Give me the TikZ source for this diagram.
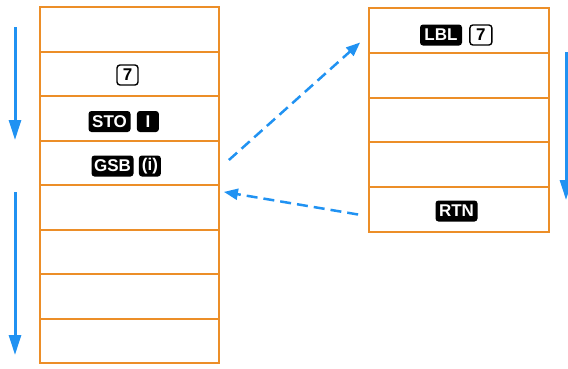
\documentclass[tikz,border=0pt]{standalone}
\usepackage{fontspec}
\newfontfamily\keyfont{Liberation Sans}
\usetikzlibrary{arrows.meta,positioning}

\definecolor{cellorange}{RGB}{236,142,40}
\definecolor{flowblue}{RGB}{32,146,242}

\begin{document}
\begin{tikzpicture}[
  x=1pt, y=-1pt,
  >=Latex,
  every node/.style={font=\keyfont\bfseries\fontsize{17}{20}\selectfont},
  lcell/.style={draw=cellorange, line width=1.8pt, minimum width=179pt, inner sep=0pt},
  rcell/.style={draw=cellorange, line width=1.8pt, minimum width=180pt, inner sep=0pt},
  blackkey/.style={fill=black, text=white, rounded corners=3pt, minimum width=42pt, minimum height=21pt, inner xsep=2pt, inner ysep=0pt},
  whitekey/.style={draw=black, line width=1.4pt, fill=white, text=black, rounded corners=3pt, minimum width=21pt, minimum height=20pt, inner xsep=2pt, inner ysep=0pt},
  narrow/.style={minimum width=22pt},
  flow/.style={draw=flowblue, line width=3pt, -{Triangle[length=20pt,width=12pt]}},
  jump/.style={draw=flowblue, line width=2.5pt, dash pattern=on 11pt off 6pt, -{Triangle[length=14pt,width=11pt]}}
]
  \useasboundingbox (0,0) rectangle (568,368);
  \clip (0,0) rectangle (568,368);

  \foreach \i in {1,...,8}{
    \pgfmathsetmacro\ctop{7+round(44.5*(\i-1))}
    \pgfmathsetmacro\cbot{7+round(44.5*\i)}
    \node[lcell, minimum height=\cbot pt-\ctop pt] (l\i) at (129.5,{(\ctop+\cbot)/2}) {};
  }
  \foreach \i in {1,...,5}{
    \pgfmathsetmacro\ctop{8+round(44.8*(\i-1))}
    \pgfmathsetmacro\cbot{8+round(44.8*\i)}
    \node[rcell, minimum height=\cbot pt-\ctop pt] (r\i) at (459,{(\ctop+\cbot)/2}) {};
  }

  \node[whitekey] (seven) at ([xshift=-2pt,yshift=-1pt]l2.center) {7};
  \node[blackkey] (sto) at ([xshift=-20pt,yshift=-3pt]l3.center) {STO};
  \node[blackkey, narrow, right=6pt of sto] (ireg) {I};
  \node[blackkey] (gsb) at ([xshift=-17pt,yshift=-3pt]l4.center) {GSB};
  \node[blackkey, narrow, right=5pt of gsb] (indirect) {(i)};
  \node[blackkey] (lbl) at ([xshift=-18pt,yshift=-4.5pt]r1.center) {LBL};
  \node[whitekey, narrow, right=7pt of lbl] (lblseven) {7};
  \node[blackkey] (rtn) at ([xshift=-2.5pt,yshift=-1.5pt]r5.center) {RTN};

  \coordinate (maintop) at (15,27);
  \coordinate (mainmid) at (15,140);
  \coordinate (restop) at (15,192);
  \coordinate (resbot) at (15,355);
  \coordinate (subtop) at (566,52);
  \coordinate (subbot) at (566,200);
  \draw[flow] (maintop) -- (mainmid);
  \draw[flow] (restop) -- (resbot);
  \draw[flow] (subtop) -- (subbot);

  \coordinate (callout) at ([xshift=9pt,yshift=3pt]l4.east);
  \coordinate (callin) at ([xshift=-8pt,yshift=-12pt]r1.west);
  \coordinate (retout) at ([xshift=-10pt,yshift=-5pt]r5.west);
  \coordinate (retin) at ([xshift=4pt,yshift=-6pt]l4.south east);
  \draw[jump] (callout) -- (callin);
  \draw[jump] (retout) -- (retin);
\end{tikzpicture}
\end{document}
